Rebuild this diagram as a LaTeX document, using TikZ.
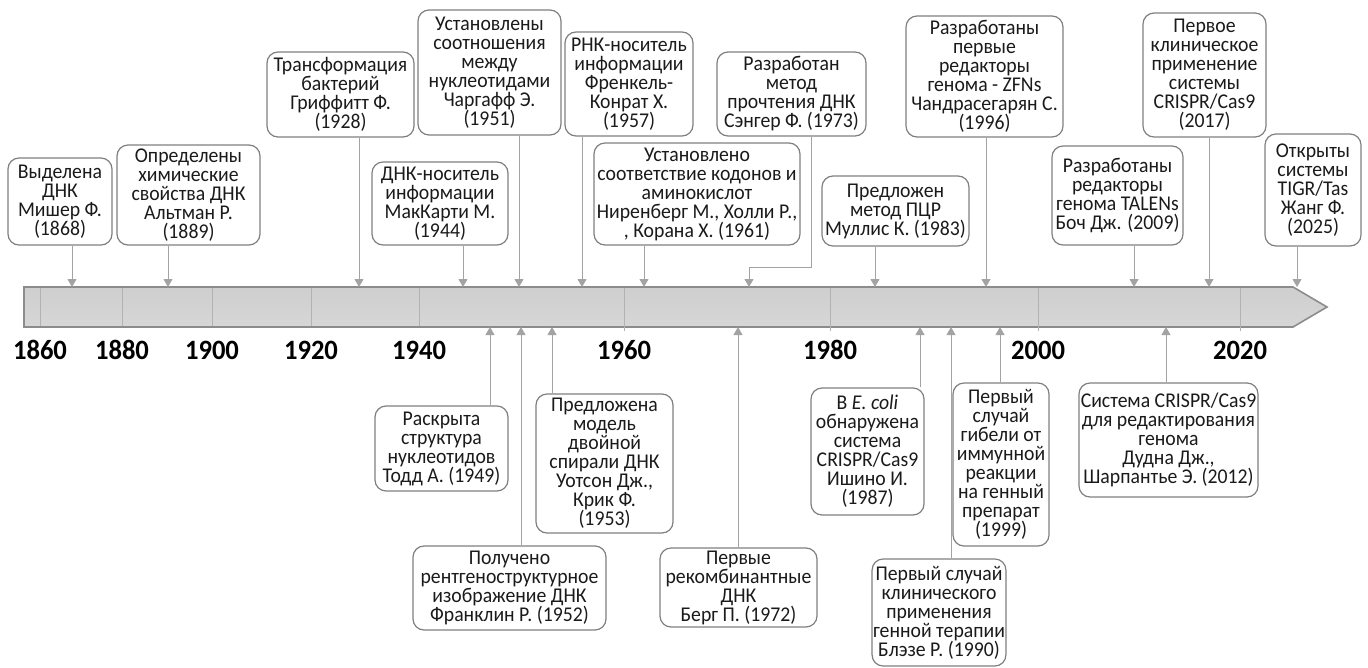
\documentclass[tikz,border=0pt]{standalone}
\usepackage{fontspec}
\setmainfont{Carlito}[FakeStretch=0.94]
\newfontfamily\yearfont{Carlito}[FakeStretch=0.95]
\usetikzlibrary{arrows.meta}
\definecolor{arrgray}{HTML}{A3A3A3}
\definecolor{boxgray}{HTML}{7F7F7F}
\definecolor{bargray}{HTML}{8C8C8C}
\definecolor{tickgray}{HTML}{B2B2B2}
\definecolor{txt}{HTML}{1A1A1A}
\begin{document}
\begin{tikzpicture}[>={Triangle[length=8pt,width=9pt]}, x=1pt, y=-1pt,
    box/.style={draw=boxgray, line width=1.2pt, rounded corners=11pt, align=center,
        inner sep=1pt, text=txt, font=\fontsize{21}{19}\selectfont},
    arr/.style={->, draw=arrgray, fill=none, line width=1pt},
    year/.style={font=\yearfont\fontsize{28}{28}\bfseries, text=black}]
    \useasboundingbox (0,0) rectangle (1368,667);

    % 1. Шкала времени
    \shade[top color=gray!38, middle color=gray!14, bottom color=gray!32, draw=bargray, line width=1.6pt]
        (24,287) -- (1293,287) -- (1327,307) -- (1293,327) -- (24,327) -- cycle;
    \foreach \x/\yr in {40/1860, 122/1880, 212/1900, 311/1920, 419/1940} {
        \draw[tickgray, line width=1pt] (\x,288) -- (\x,326);
        \node[year] (y\yr) at (\x,350) {\yr};
    }
    \foreach \x/\yr in {624/1960, 830/1980, 1038/2000, 1240/2020} {
        \draw[tickgray, line width=1pt] (\x,288) -- (\x,331);
        \node[year] (y\yr) at (\x,350) {\yr};
    }

    % 2. Точки на шкале
    \foreach \x/\yr in {72/1868, 168/1889, 359/1928, 463/1944, 519/1951, 582/1957,
        644/1961, 749/1973, 875/1983, 986/1996, 1134/2009, 1209/2017, 1297/2025}
        \coordinate (t\yr) at (\x,287);
    \foreach \x/\yr in {490/1949, 521/1952, 552/1953, 738/1972, 920/1987,
        951/1990, 1000/1999, 1166/2012}
        \coordinate (t\yr) at (\x,327);

    % 3. События сверху
    \node[box, minimum width=104pt, minimum height=87pt] (n1868) at (60,201.5)
        {Выделена\\ДНК\\Мишер Ф.\\(1868)};
    \node[box, minimum width=143pt, minimum height=100pt] (n1889) at (188.5,195)
        {Определены\\химические\\свойства ДНК\\Альтман Р.\\(1889)};
    \node[box, minimum width=147pt, minimum height=85pt] (n1928) at (340.5,94.5)
        {Трансформация\\бактерий\\Гриффитт Ф.\\(1928)};
    \node[box, minimum width=136pt, minimum height=83pt] (n1944) at (440,203.5)
        {ДНК-носитель\\информации\\МакКарти М.\\(1944)};
    \node[box, minimum width=143pt, minimum height=125pt] (n1951) at (489.5,72.5)
        {Установлены\\соотношения\\между\\нуклеотидами\\Чаргафф Э.\\(1951)};
    \node[box, minimum width=128pt, minimum height=104pt] (n1957) at (629,84)
        {РНК-носитель\\информации\\Френкель-\\Конрат Х.\\(1957)};
    \node[box, minimum width=206pt, minimum height=102pt] (n1961) at (697,194)
        {Установлено\\соответствие кодонов и\\аминокислот\\Ниренберг М., Холли Р.,\\, Корана Х. (1961)};
    \node[box, minimum width=149pt, minimum height=84pt] (n1973) at (791.5,94)
        {Разработан\\метод\\прочтения ДНК\\Сэнгер Ф. (1973)};
    \node[box, minimum width=147pt, minimum height=70pt] (n1983) at (895.5,211)
        {Предложен\\метод ПЦР\\Муллис К. (1983)};
    \node[box, minimum width=157pt, minimum height=121pt] (n1996) at (984.5,76.5)
        {Разработаны\\первые\\редакторы\\генома - ZFNs\\Чандрасегарян С.\\(1996)};
    \node[box, minimum width=131pt, minimum height=99pt] (n2009) at (1117.5,195.5)
        {Разработаны\\редакторы\\генома TALENs\\Боч Дж. (2009)};
    \node[box, minimum width=123pt, minimum height=124pt] (n2017) at (1204.5,75)
        {Первое\\клиническое\\применение\\системы\\CRISPR/Cas9\\(2017)};
    \node[box, minimum width=96pt, minimum height=112pt] (n2025) at (1313,190)
        {Открыты\\системы\\TIGR/Tas\\Жанг Ф.\\(2025)};

    % 4. События снизу
    \node[box, minimum width=133pt, minimum height=85pt] (n1949) at (441.5,448.5)
        {Раскрыта\\структура\\нуклеотидов\\Тодд А. (1949)};
    \node[box, minimum width=193pt, minimum height=84pt] (n1952) at (509.5,588)
        {Получено\\рентгеноструктурное\\изображение ДНК\\Франклин Р.\ (1952)};
    \node[box, minimum width=137pt, minimum height=139pt] (n1953) at (604.5,463.5)
        {Предложена\\модель\\двойной\\спирали ДНК\\Уотсон Дж.,\\Крик Ф.\\(1953)};
    \node[box, minimum width=157pt, minimum height=79pt] (n1972) at (738.5,587.5)
        {Первые\\рекомбинантные\\ДНК\\Берг П. (1972)};
    \node[box, minimum width=113pt, minimum height=127pt] (n1987) at (867.5,451.5)
        {В \textit{E. coli}\\обнаружена\\система\\CRISPR/Cas9\\Ишино И.\\(1987)};
    \node[box, minimum width=130pt, minimum height=107pt] (n1990) at (939,612.5)
        {Первый случай\\клинического\\применения\\генной терапии\\Блэзе Р. (1990)};
    \node[box, minimum width=96pt, minimum height=163pt] (n1999) at (1001,464.5)
        {Первый\\случай\\гибели от\\иммунной\\реакции\\на генный\\препарат\\(1999)};
    \node[box, minimum width=179pt, minimum height=114pt] (n2012) at (1168.5,440)
        {Система CRISPR/Cas9\\для редактирования\\генома\\Дудна Дж.,\\Шарпантье Э. (2012)};

    % 5. Стрелки
    \foreach \yr in {1868, 1889, 1928, 1944, 1951, 1957, 1961, 1983, 1996, 2009, 2017, 2025}
        \draw[arr] (n\yr.south -| t\yr) -- (t\yr);
    \draw[arr] (n1973.south -| 811,0) |- (749,267) -- (t1973);
    \foreach \yr in {1949, 1952, 1953, 1972, 1987, 1990, 1999, 2012}
        \draw[arr] (n\yr.north -| t\yr) -- (t\yr);
\end{tikzpicture}
\end{document}
